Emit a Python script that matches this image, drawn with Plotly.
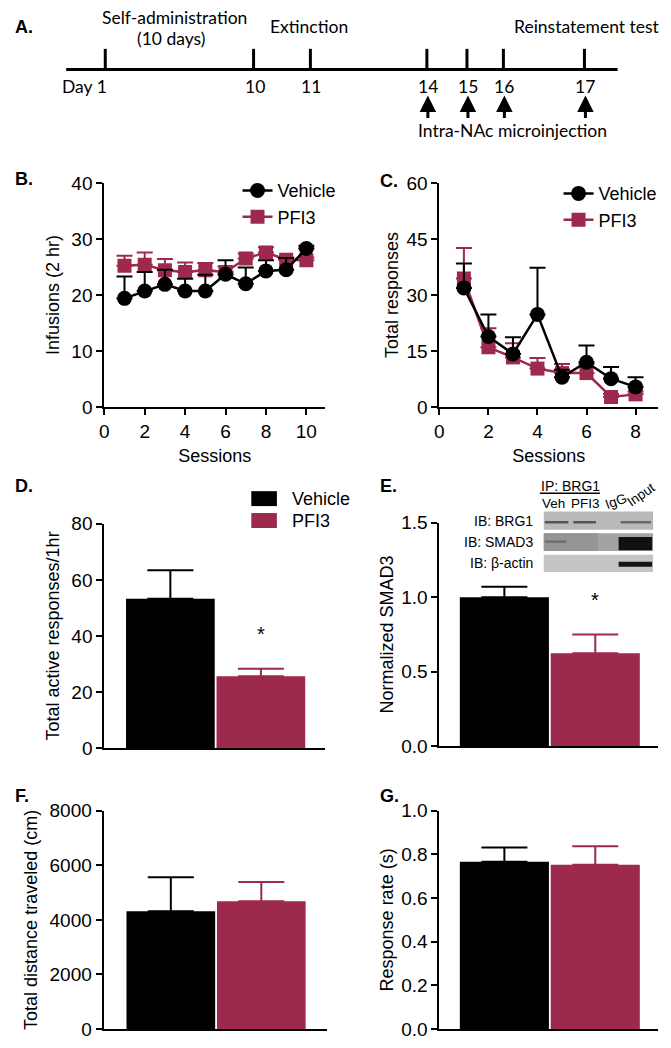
import plotly.graph_objects as go

# the page body keeps an 8px margin, so the figure is 16px smaller than the window;
# the plot area then spans window rows 15..1031
PAGE_W, PAGE_H = 671, 1048
OFF_X = 8
W, H = PAGE_W - 2 * OFF_X, PAGE_H - 2 * OFF_X
PLOT_TOP, PLOT_H = 15, 1016
RED = "#9d2a4c"
BLACK = "#000000"
FONT = "Arial, Liberation Sans, sans-serif"
FONT_A = "Lato, Open Sans, sans-serif"

# ---- data ----
# A. timeline
timeline_days = ["Day 1", "10", "11", "14", "15", "16", "17"]
injection_days = ["14", "15", "16", "17"]

# B. self-administration
sa_sessions = list(range(1, 11))
sa_vehicle = [19.4, 20.7, 21.9, 20.7, 20.7, 23.7, 22.0, 24.3, 24.5, 28.3]
sa_vehicle_sem = [3.9, 3.4, 2.6, 2.2, 2.9, 2.5, 2.9, 1.9, 2.1, 0.5]
sa_pfi3 = [25.2, 25.4, 24.4, 24.1, 24.4, 24.1, 26.5, 27.6, 26.3, 26.2]
sa_pfi3_sem = [1.8, 2.2, 2.0, 1.7, 1.3, 1.0, 0.9, 0.9, 0.4, 0.5]

# C. extinction
ext_sessions = list(range(1, 9))
ext_vehicle = [31.9, 18.9, 14.2, 24.8, 8.0, 12.0, 7.6, 5.4]
ext_vehicle_sem = [6.5, 5.9, 4.5, 12.5, 2.0, 4.5, 3.1, 2.6]
ext_pfi3 = [34.4, 16.0, 13.3, 10.3, 9.1, 9.1, 2.7, 3.4]
ext_pfi3_sem = [8.2, 5.1, 3.8, 2.8, 2.4, 2.4, 0.8, 0.8]

groups = ["Vehicle", "PFI3"]
# D. reinstatement
reinst_mean = [53.3, 25.6]
reinst_sem = [10.1, 2.7]
# E. co-IP
smad3_mean = [1.00, 0.624]
smad3_sem = [0.07, 0.125]
# F. locomotor
distance_mean = [4315, 4683]
distance_sem = [1248, 702]
# G. response rate
rate_mean = [0.767, 0.753]
rate_sem = [0.065, 0.085]

blot_rows = ["IB: BRG1", "IB: SMAD3", "IB: \u03b2-actin"]
blot_lanes = ["Veh", "PFI3", "IgG", "Input"]


def px(x):
    return min(max((x - OFF_X) / W, 0), 1)


def py(y, clip=True):
    v = 1 - (y - PLOT_TOP) / PLOT_H
    return min(max(v, 0), 1) if clip else v


fig = go.Figure()

# B
fig.add_trace(go.Scatter(x=sa_sessions, y=sa_pfi3, name="PFI3", mode="lines+markers",
                         line=dict(color=RED, width=2.5),
                         marker=dict(symbol="square", size=14, color=RED),
                         error_y=dict(type="data", symmetric=False, array=sa_pfi3_sem,
                                      arrayminus=[0] * 10, color=RED, thickness=2, width=8),
                         legend="legend", legendrank=2, xaxis="x", yaxis="y"))
fig.add_trace(go.Scatter(x=sa_sessions, y=sa_vehicle, name="Vehicle", mode="lines+markers",
                         line=dict(color=BLACK, width=2.5),
                         marker=dict(symbol="circle", size=15, color=BLACK),
                         error_y=dict(type="data", symmetric=False, array=sa_vehicle_sem,
                                      arrayminus=[0] * 10, color=BLACK, thickness=2, width=8),
                         legend="legend", legendrank=1, xaxis="x", yaxis="y"))

# C
fig.add_trace(go.Scatter(x=ext_sessions, y=ext_pfi3, name="PFI3", mode="lines+markers",
                         line=dict(color=RED, width=2.5),
                         marker=dict(symbol="square", size=14, color=RED),
                         error_y=dict(type="data", symmetric=False, array=ext_pfi3_sem,
                                      arrayminus=[0] * 8, color=RED, thickness=2, width=8),
                         legend="legend2", legendrank=2, xaxis="x2", yaxis="y2"))
fig.add_trace(go.Scatter(x=ext_sessions, y=ext_vehicle, name="Vehicle", mode="lines+markers",
                         line=dict(color=BLACK, width=2.5),
                         marker=dict(symbol="circle", size=15, color=BLACK),
                         error_y=dict(type="data", symmetric=False, array=ext_vehicle_sem,
                                      arrayminus=[0] * 8, color=BLACK, thickness=2, width=8),
                         legend="legend2", legendrank=1, xaxis="x2", yaxis="y2"))

# bar panels D-G
bar_panels = [
    (reinst_mean, reinst_sem, "x3", "y3"),
    (smad3_mean, smad3_sem, "x4", "y4"),
    (distance_mean, distance_sem, "x5", "y5"),
    (rate_mean, rate_sem, "x6", "y6"),
]
for means, sems, xa, ya in bar_panels:
    for i, (g, c) in enumerate(zip(groups, [BLACK, RED])):
        fig.add_trace(go.Bar(x=[g], y=[means[i]], width=0.98, marker=dict(color=c, line=dict(width=0)),
                             error_y=dict(type="data", symmetric=False, array=[sems[i]], arrayminus=[0],
                                          color=c, thickness=2, width=23),
                             showlegend=False, xaxis=xa, yaxis=ya))

axis_common = dict(showline=True, linecolor=BLACK, linewidth=2, ticks="outside", ticklen=6,
                   tickwidth=2, tickcolor=BLACK, showgrid=False, zeroline=False,
                   tickfont=dict(family=FONT, size=19, color=BLACK),
                   title_font=dict(family=FONT, size=18, color=BLACK))
bar_x = dict(showline=True, linecolor=BLACK, linewidth=2, ticks="", showticklabels=False,
             showgrid=False, zeroline=False, type="category", categoryorder="array",
             categoryarray=groups)

top_row = [py(406), py(180.7)]
mid_row = [py(748.7), py(523.3)]
bot_row = [py(1036), py(811.7)]
right_edge = PAGE_W - OFF_X
left_title = dict(standoff=7)
right_title = dict(standoff=3)

fig.update_layout(
    width=W, height=H, margin=dict(l=0, r=0, t=0, b=0),
    paper_bgcolor="white", plot_bgcolor="white", barmode="overlay",
    font=dict(family=FONT, size=18, color=BLACK),
    xaxis=dict(axis_common, domain=[px(100.7), px(325)], range=[0, 10.93], dtick=2, tick0=0,
               title=dict(text="Sessions", standoff=9), anchor="y"),
    yaxis=dict(axis_common, domain=top_row, range=[0, 40], dtick=10,
               title=dict(left_title, text="Infusions (2 hr)"), anchor="x"),
    xaxis2=dict(axis_common, domain=[px(441), px(right_edge)], range=[0, (right_edge - 441) / 24.9],
                dtick=2, tick0=0, title=dict(text="Sessions", standoff=9), anchor="y2"),
    yaxis2=dict(axis_common, domain=top_row, range=[0, 60], dtick=15,
                title=dict(right_title, text="Total responses"), anchor="x2"),
    xaxis3=dict(bar_x, domain=[px(100.7), px(325)], range=[-0.73, 1.71], anchor="y3"),
    yaxis3=dict(axis_common, domain=mid_row, range=[0, 80], dtick=20,
                title=dict(left_title, text="Total active responses/1hr"), anchor="x3"),
    xaxis4=dict(bar_x, domain=[px(441), px(right_edge)], range=[-0.715, 1 + (right_edge - 599.3) / 92.3],
                anchor="y4"),
    yaxis4=dict(axis_common, domain=[py(746.7), py(522.3)], range=[0, 1.5], dtick=0.5,
                tickformat=".1f", title=dict(right_title, text="Normalized SMAD3"), anchor="x4"),
    xaxis5=dict(bar_x, domain=[px(100), px(326.7)], range=[-0.743, 1.724], anchor="y5"),
    yaxis5=dict(axis_common, domain=bot_row, range=[0, 8000], dtick=2000,
                title=dict(left_title, text="Total distance traveled (cm)"), anchor="x5"),
    xaxis6=dict(bar_x, domain=[px(441), px(right_edge)], range=[-0.715, 1 + (right_edge - 599.3) / 92.3],
                anchor="y6"),
    yaxis6=dict(axis_common, domain=bot_row, range=[0, 1.0], dtick=0.2,
                tickformat=".1f", title=dict(right_title, text="Response rate (s)"), anchor="x6"),
    legend=dict(x=px(236), y=py(170), xanchor="left", yanchor="top", bgcolor="rgba(0,0,0,0)",
                font=dict(family=FONT, size=18), tracegroupgap=0),
    legend2=dict(x=px(562), y=py(173), xanchor="left", yanchor="top", bgcolor="rgba(0,0,0,0)",
                 font=dict(family=FONT, size=18), tracegroupgap=0),
)

shapes = []
ann = []

# ---- panel A: schematic timeline ----
tick_px = [101.7, 252.3, 310, 428.3, 469, 506, 588.3]
shapes.append(dict(type="line", xref="paper", yref="paper", x0=px(62), x1=px(622),
                   y0=py(66.7), y1=py(66.7), line=dict(color=BLACK, width=3)))
for d, xp in zip(timeline_days, tick_px):
    shapes.append(dict(type="line", xref="paper", yref="paper", x0=px(xp), x1=px(xp),
                       y0=py(46), y1=py(66.7), line=dict(color=BLACK, width=3)))
    if d.startswith("Day"):
        ann.append(dict(text=d, x=px(xp + 4), y=py(83.5), xanchor="right", yanchor="middle"))
    else:
        ann.append(dict(text=d, x=px(xp + 1), y=py(83.5), xanchor="center", yanchor="middle"))
    if d in injection_days:
        ann.append(dict(text="", x=px(xp + 1), y=py(93), showarrow=True, ax=0, ay=24,
                        arrowhead=2, arrowsize=1.1, arrowwidth=3, arrowcolor=BLACK))
for t, xc, yc in [("Self-administration", 171.7, 14), ("(10 days)", 168, 36),
                  ("Extinction", 309, 23.5), ("Reinstatement test", 590.5, 23.5),
                  ("Intra-NAc microinjection", 515, 128.5)]:
    ann.append(dict(text=t, x=px(xc), y=py(yc, clip=False), xanchor="center", yanchor="middle"))
for a in ann:
    a.setdefault("font", dict(family=FONT_A, size=17.5, color=BLACK))

# panel letters
for t, xl, yl in [("A.", 8, 24), ("B.", 8, 177), ("C.", 379, 179), ("D.", 8, 485),
                  ("E.", 379, 485), ("F.", 8, 797), ("G.", 379, 797)]:
    ann.append(dict(text="<b>%s</b>" % t, x=px(xl), y=py(yl), xanchor="left", yanchor="middle",
                    font=dict(family=FONT, size=18, color=BLACK)))

# significance stars
ann.append(dict(text="*", x=1, y=reinst_mean[1] + reinst_sem[1], xref="x3", yref="y3", yshift=22,
                xanchor="center", yanchor="bottom", font=dict(family=FONT, size=20, color=BLACK)))
ann.append(dict(text="*", x=1, y=smad3_mean[1] + smad3_sem[1], xref="x4", yref="y4", yshift=22,
                xanchor="center", yanchor="bottom", font=dict(family=FONT, size=20, color=BLACK)))

# D legend (boxes)
for i, (g, c) in enumerate(zip(groups, [BLACK, RED])):
    yc = 498 + 22 * i
    shapes.append(dict(type="rect", xref="paper", yref="paper", x0=px(250), x1=px(276),
                       y0=py(yc + 7.5), y1=py(yc - 7.5), fillcolor=c, line=dict(width=0)))
    ann.append(dict(text=g, x=px(289), y=py(yc), xanchor="left", yanchor="middle",
                    font=dict(family=FONT, size=18, color=BLACK)))

# ---- E inset: western blot ----
row_y = [(511, 529.3), (532.7, 550.7), (554.3, 571.7)]
row_fill = ["#b9b9b9", "#a3a3a3", "#c4c4c4"]
for (y0, y1), f, lab in zip(row_y, row_fill, blot_rows):
    shapes.append(dict(type="rect", xref="paper", yref="paper", x0=px(547), x1=px(658),
                       y0=py(y1), y1=py(y0), fillcolor=f, line=dict(width=0), layer="above"))
    ann.append(dict(text=lab, x=px(538), y=py((y0 + y1) / 2), xanchor="right", yanchor="middle",
                    font=dict(family=FONT, size=14, color=BLACK)))
# darker left half of SMAD3 strip
shapes.append(dict(type="rect", xref="paper", yref="paper", x0=px(547), x1=px(602),
                   y0=py(550.7), y1=py(532.7), fillcolor="#959595", line=dict(width=0), layer="above"))
bands = [
    (548, 572, 520.5, 523, "#55555a"), (577, 600, 520.5, 523, "#55555a"), (625, 656, 520.5, 523, "#6a6a6a"),
    (548, 570, 540, 542.5, "#6e6e6e"),
    (623, 657, 536.5, 550, "#111111"),
    (623, 657, 561.5, 566.5, "#151515"),
]
for x0, x1, y0, y1, c in bands:
    shapes.append(dict(type="rect", xref="paper", yref="paper", x0=px(x0), x1=px(x1),
                       y0=py(y1), y1=py(y0), fillcolor=c, line=dict(width=0), layer="above"))
ann.append(dict(text="IP: BRG1", x=px(574), y=py(485), xanchor="center", yanchor="middle",
                font=dict(family=FONT, size=14, color=BLACK)))
shapes.append(dict(type="line", xref="paper", yref="paper", x0=px(543), x1=px(604),
                   y0=py(492.7), y1=py(492.7), line=dict(color=BLACK, width=1.5)))
for lane, xc, yc, ang in zip(blot_lanes, [557, 589.5, 620, 646], [502.5, 502.5, 500.5, 494], [0, 0, -20, -35]):
    ann.append(dict(text=lane, x=px(xc), y=py(yc), xanchor="center", yanchor="middle", textangle=ang,
                    font=dict(family=FONT, size=13.5, color=BLACK)))

for a in ann:
    a.setdefault("xref", "paper")
    a.setdefault("yref", "paper")
    a.setdefault("showarrow", False)

fig.update_layout(shapes=shapes, annotations=ann)
fig.write_html("out.html")
